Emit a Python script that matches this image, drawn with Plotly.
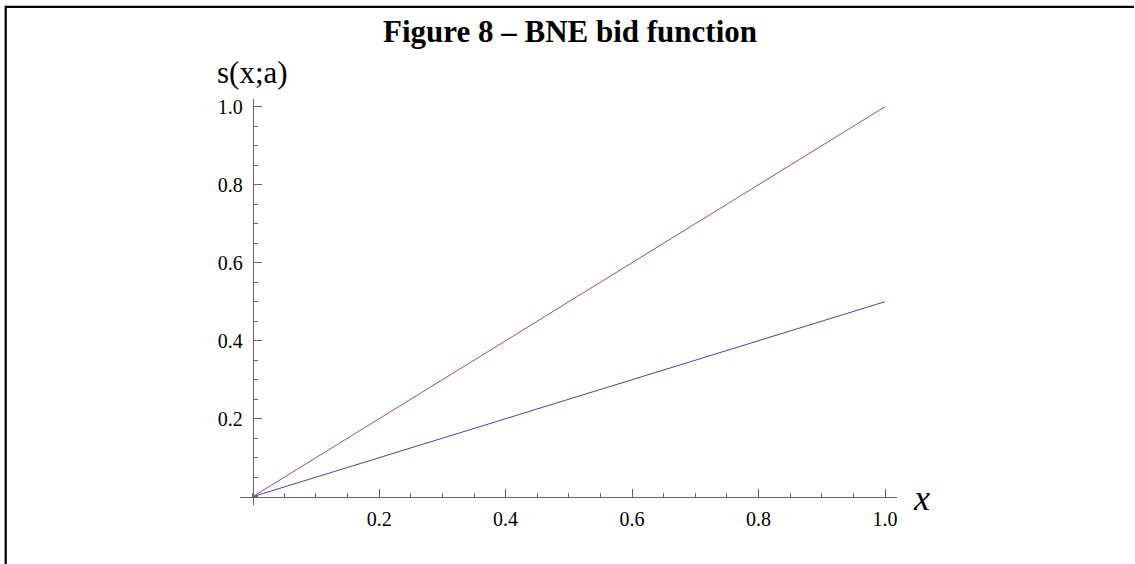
import plotly.graph_objects as go

# Data
x_vals = [0.0, 1.0]
bid_full = [0.0, 1.0]     # s(x; a) upper line
bid_half = [0.0, 0.5]     # s(x; a) lower line
x_tick_vals = [0.2, 0.4, 0.6, 0.8, 1.0]
x_tick_text = ["0.2", "0.4", "0.6", "0.8", "1.0"]
y_tick_vals = [0.2, 0.4, 0.6, 0.8, 1.0]
y_tick_text = ["0.2", "0.4", "0.6", "0.8", "1.0"]

W, H = 1135, 564
L, R, T, B = 240, 238, 99, 59
pw, ph = W - L - R, H - T - B
xpx, ypx = 632.3, 390.0
x0 = -(252.7 - L) / xpx
x1 = x0 + pw / xpx
y0 = -((H - B) - 496.7) / ypx
y1 = y0 + ph / ypx

serif = "Liberation Serif, Times New Roman, serif"
axis_col = "#666666"

fig = go.Figure()
fig.add_trace(go.Scatter(x=x_vals, y=bid_half, mode="lines",
                         line=dict(color="#4545a5", width=1), showlegend=False))
fig.add_trace(go.Scatter(x=x_vals, y=bid_full, mode="lines",
                         line=dict(color="#a04a80", width=1), showlegend=False))

fig.update_layout(
    width=W, height=H,
    margin=dict(l=L, r=R, t=T, b=B, pad=0),
    paper_bgcolor="white", plot_bgcolor="white",
    title=dict(text="<b>Figure 8 – BNE bid function</b>",
               font=dict(family=serif, size=31, color="black"),
               x=570 / W, xref="container", xanchor="center",
               y=1 - 31 / H, yref="container", yanchor="middle"),
    xaxis=dict(range=[x0, x1], anchor="free", position=(-y0) / (y1 - y0),
               showgrid=False, zeroline=False, showline=True,
               linecolor=axis_col, linewidth=1,
               tickmode="array", tickvals=x_tick_vals, ticktext=x_tick_text,
               ticks="inside", ticklen=8, tickcolor=axis_col, tickwidth=1,
               ticklabelstandoff=4,
               minor=dict(tick0=0, dtick=0.05, ticks="inside", ticklen=4,
                          tickcolor=axis_col, tickwidth=1, showgrid=False),
               tickfont=dict(family=serif, size=20, color="black")),
    yaxis=dict(range=[y0, y1], anchor="free", position=(-x0) / (x1 - x0),
               showgrid=False, zeroline=False, showline=True,
               linecolor=axis_col, linewidth=1,
               tickmode="array", tickvals=y_tick_vals, ticktext=y_tick_text,
               ticks="inside", ticklen=8, tickcolor=axis_col, tickwidth=1,
               ticklabelstandoff=6,
               minor=dict(tick0=0, dtick=0.05, ticks="inside", ticklen=4,
                          tickcolor=axis_col, tickwidth=1, showgrid=False),
               tickfont=dict(family=serif, size=20, color="black")),
)

def px_x(p):
    return (p - L) / pw

def px_y(p):
    return ((H - B) - p) / ph

fig.add_annotation(text="s(x;a)", x=0, xref="x", xanchor="center",
                   y=px_y(73), yref="paper", yanchor="middle", showarrow=False,
                   font=dict(family=serif, size=31, color="black"))
fig.add_annotation(text="<i>x</i>", x=px_x(921), xref="paper", xanchor="center",
                   y=px_y(498), yref="paper", yanchor="middle", showarrow=False,
                   font=dict(family=serif, size=36, color="black"))

# Frame border (top and left edges)
fig.add_shape(type="line", xref="paper", yref="paper",
              x0=px_x(5.7), x1=px_x(1134), y0=px_y(6.8), y1=px_y(6.8),
              line=dict(color="black", width=2.2))
fig.add_shape(type="line", xref="paper", yref="paper",
              x0=px_x(5.7), x1=px_x(5.7), y0=px_y(5.7), y1=px_y(564),
              line=dict(color="black", width=2.2))

fig.write_html("out.html", config={"displayModeBar": False})
